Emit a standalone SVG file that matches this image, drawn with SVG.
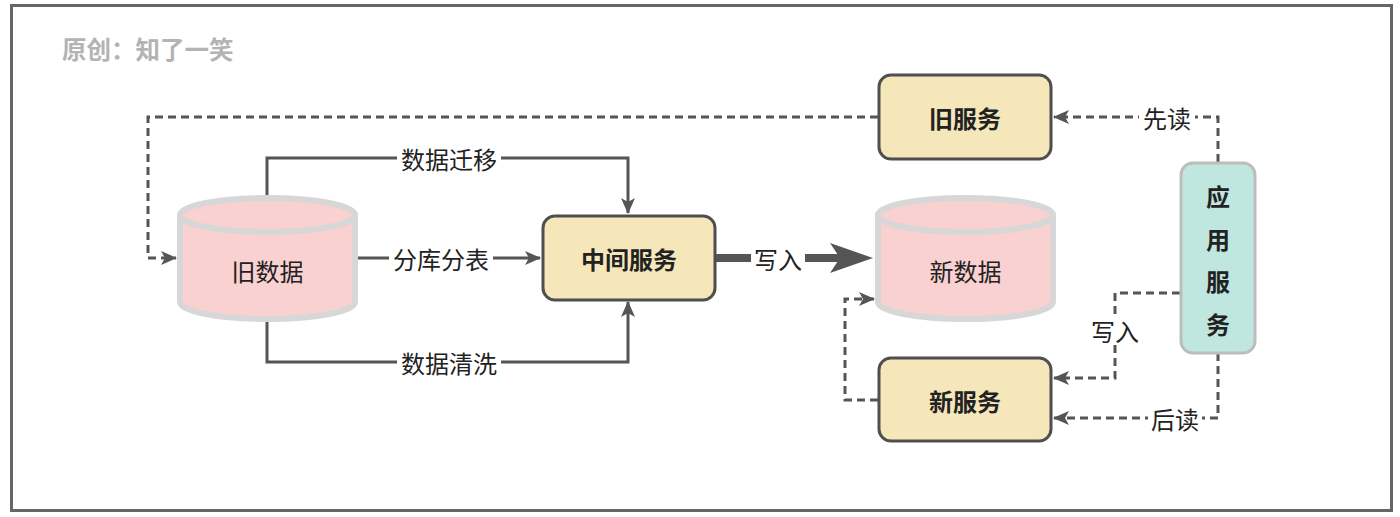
<svg xmlns="http://www.w3.org/2000/svg" width="1400" height="517" viewBox="0 0 1400 517">
<style>
.lbl{font-family:"Noto Sans CJK SC","Noto Sans",sans-serif;font-size:24px;fill:#222;text-anchor:middle;dominant-baseline:central}
.nb{font-family:"Noto Sans CJK SC","Noto Sans",sans-serif;font-size:24px;font-weight:bold;fill:#222;text-anchor:middle;dominant-baseline:central}
.svc{fill:#f5e7b9;stroke:#4f4f4f;stroke-width:3}
.cyl{fill:#f9d1d0;stroke:#d7d7d7;stroke-width:6}
.ln{fill:none;stroke:#555;stroke-width:3}
.dl{fill:none;stroke:#555;stroke-width:3;stroke-dasharray:8 5}
.bg{fill:#fff}
</style>
<defs>
<marker id="ar" markerUnits="userSpaceOnUse" markerWidth="16" markerHeight="14" viewBox="0 0 16 14" refX="15" refY="7" orient="auto">
<path d="M0,0 L16,7 L0,14 L4,7 Z" fill="#555"/>
</marker>
</defs>
<rect x="11.5" y="5.5" width="1380" height="505" fill="#fff" stroke="#666" stroke-width="3"/>
<text x="62" y="48" font-family="'Noto Sans CJK SC',sans-serif" font-size="24.5" font-weight="bold" fill="#b3b3b3" dominant-baseline="central">原创：知了一笑</text>

<g id="connectors">
<polyline class="ln" points="267,198 267,158 628,158 628,213" marker-end="url(#ar)"/>
<line class="ln" x1="358" y1="258" x2="540" y2="258" marker-end="url(#ar)"/>
<polyline class="ln" points="267,320 267,362 628,362 628,302" marker-end="url(#ar)"/>
<line x1="716" y1="258" x2="840" y2="258" stroke="#555" stroke-width="8"/>
<path d="M830,243 L873,258 L830,273 L840,258 Z" fill="#555"/>
<polyline class="dl" points="878,117 148,117 148,258 176,258" marker-end="url(#ar)"/>
<polyline class="dl" points="1218,162 1218,117 1054,117" marker-end="url(#ar)"/>
<polyline class="dl" points="1180,293 1115,293 1115,378 1054,378" marker-end="url(#ar)"/>
<polyline class="dl" points="1218,353 1218,418 1054,418" marker-end="url(#ar)"/>
<polyline class="dl" points="878,400 845,400 845,299 874,299" marker-end="url(#ar)"/>
<rect class="bg" x="397" y="145" width="104" height="26"/>
<text class="lbl" x="449" y="158">数据迁移</text>
<rect class="bg" x="389" y="245" width="104" height="26"/>
<text class="lbl" x="441" y="258">分库分表</text>
<rect class="bg" x="397" y="349" width="104" height="26"/>
<text class="lbl" x="449" y="362">数据清洗</text>
<rect class="bg" x="751" y="245" width="54" height="26"/>
<text class="lbl" x="778" y="258">写入</text>
<rect class="bg" x="1139" y="104" width="56" height="26"/>
<text class="lbl" x="1167" y="117">先读</text>
<rect class="bg" x="1089" y="317" width="52" height="26"/>
<text class="lbl" x="1115" y="330">写入</text>
<rect class="bg" x="1148" y="405" width="54" height="26"/>
<text class="lbl" x="1175" y="418">后读</text>
</g>

<g id="old-data">
<path class="cyl" d="M180,215 A87.5,17 0 0 1 355,215 L355,302 A87.5,17 0 0 1 180,302 Z"/>
<path class="cyl" d="M180,215 A87.5,17 0 0 0 355,215" fill="none"/>
<text class="lbl" x="267.5" y="270">旧数据</text>
</g>
<g id="new-data">
<path class="cyl" d="M878,215 A87.5,17 0 0 1 1053,215 L1053,302 A87.5,17 0 0 1 878,302 Z"/>
<path class="cyl" d="M878,215 A87.5,17 0 0 0 1053,215" fill="none"/>
<text class="lbl" x="965.5" y="270">新数据</text>
</g>
<g id="mid-service">
<rect class="svc" x="543" y="216" width="172" height="84" rx="12"/>
<text class="nb" x="629" y="258">中间服务</text>
</g>
<g id="old-service">
<rect class="svc" x="879" y="75" width="172" height="84" rx="12"/>
<text class="nb" x="965" y="117">旧服务</text>
</g>
<g id="new-service">
<rect class="svc" x="879" y="358" width="172" height="83" rx="12"/>
<text class="nb" x="965" y="400">新服务</text>
</g>
<g id="app-service">
<rect x="1181" y="163" width="74" height="190" rx="12" fill="#bfe7df" stroke="#bdbdbd" stroke-width="3"/>
<text class="nb" x="1218" y="195">应</text>
<text class="nb" x="1218" y="238">用</text>
<text class="nb" x="1218" y="280">服</text>
<text class="nb" x="1218" y="323">务</text>
</g>
</svg>
